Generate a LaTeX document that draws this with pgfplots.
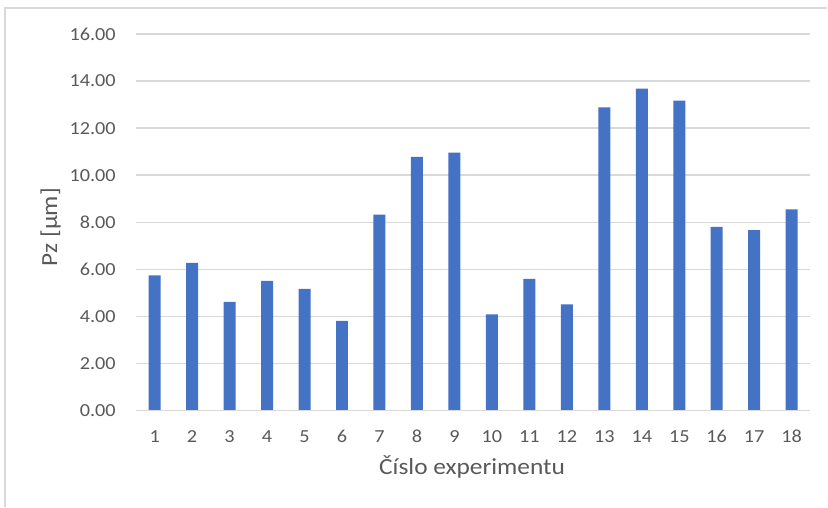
\documentclass[border=0pt]{standalone}
\usepackage{pgfplots}
\pgfplotsset{compat=1.18}
\usepackage{fontspec}
\setmainfont{Carlito}[FakeStretch=1.1]
\usetikzlibrary{calc}
\definecolor{barblue}{HTML}{4472C4}
\definecolor{gridgray}{HTML}{D9D9D9}
\definecolor{textgray}{HTML}{595959}
\begin{document}
\begin{tikzpicture}
\path (0,0) rectangle (621pt,380.25pt);
\draw[gridgray, line width=0.9pt] (3.75pt,0) -- (3.75pt,374.25pt) -- (621pt,374.25pt);
\begin{axis}[
  at={(102pt,72.2pt)}, anchor=south west,
  scale only axis,
  width=506.25pt, height=282.5pt,
  xmin=0.5, xmax=18.5,
  ymin=0, ymax=16,
  ytick={0,2,...,16},
  xtick={1,...,18},
  ymajorgrids,
  grid style={gridgray, line width=1.1pt},
  axis line style={draw=none},
  tick style={draw=none},
  /pgf/number format/assume math mode=true,
  yticklabel style={/pgf/number format/.cd, fixed, fixed zerofill, precision=2, /tikz/.cd, font=\fontsize{13.8}{15}\selectfont, text=textgray, anchor=east, inner sep=0pt, xshift=-15pt},
  xticklabel style={font=\fontsize{13.8}{15}\selectfont, text=textgray, anchor=base, inner sep=0pt, yshift=-24.2pt},
  xlabel={Číslo experimentu},
  ylabel={Pz [µm]},
  xlabel style={font=\fontsize{17.3}{19}\selectfont, text=textgray, at={($(axis description cs:0.5,0)+(-0.8pt,-48.2pt)$)}, anchor=base, inner sep=0pt},
  ylabel style={font=\fontsize{17.3}{19}\selectfont, text=textgray, at={($(axis description cs:0,0.5)+(-64pt,-3.8pt)$)}, anchor=center, inner sep=0pt},
  clip=false,
]
\addplot[ybar, bar width=9pt, fill=barblue, draw=none] coordinates {
(1,5.74) (2,6.27) (3,4.62) (4,5.51) (5,5.17) (6,3.81)
(7,8.32) (8,10.78) (9,10.96) (10,4.08) (11,5.59) (12,4.51)
(13,12.88) (14,13.68) (15,13.17) (16,7.80) (17,7.67) (18,8.55)
};
\draw[gridgray, line width=1.1pt] (axis cs:0.5,0) -- (axis cs:18.5,0);
\end{axis}
\end{tikzpicture}
\end{document}
